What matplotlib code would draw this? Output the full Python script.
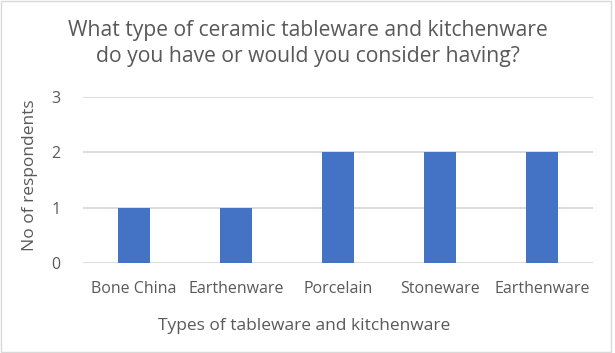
import matplotlib
matplotlib.use("Agg")
import matplotlib.pyplot as plt
from matplotlib.patches import Rectangle

plt.rcParams['font.family'] = ['Open Sans', 'DejaVu Sans']

categories = ['Bone China', 'Earthenware', 'Porcelain', 'Stoneware', 'Earthenware']
respondents = [1, 1, 2, 2, 2]
y_ticks = [0, 1, 2, 3]

text_grey = '#595959'

fig = plt.figure(figsize=(6.15, 3.53), dpi=100)
ax = fig.add_axes([0.135, 0.255, 0.829, 0.47])

x = list(range(len(categories)))
ax.bar(x, respondents, width=0.32, color='#4472C4', zorder=3)

ax.set_xlim(-0.5, len(categories) - 0.5)
ax.set_ylim(0, 3)
ax.set_yticks(y_ticks)
ax.set_xticks(x)
ax.set_xticklabels(categories)
ax.grid(axis='y', color='#d9d9d9', linewidth=1.3, zorder=0)
for s in ax.spines.values():
    s.set_visible(False)
ax.tick_params(length=0, labelsize=11.5, labelcolor=text_grey)
ax.tick_params(axis='x', pad=13)
ax.tick_params(axis='y', pad=16)

ax.set_xlabel('Types of tableware and kitchenware', fontsize=12.5, color=text_grey)
ax.set_ylabel('No of respondents', fontsize=12.5, color=text_grey)
# Excel puts the axis titles a bit off centre
ax.xaxis.set_label_coords(0.433, -0.33)
ax.yaxis.set_label_coords(-0.088, 0.53)

fig.text(0.5, 0.876, 'What type of ceramic tableware and kitchenware\ndo you have or would you consider having?',
         ha='center', va='center', fontsize=15.2, color=text_grey, linespacing=1.3)

fig.patches.append(Rectangle((0.002, 0.004), 0.992, 0.992, transform=fig.transFigure,
                             fill=False, edgecolor='#d9d9d9', linewidth=1))

fig.savefig('out.png', dpi=100)
